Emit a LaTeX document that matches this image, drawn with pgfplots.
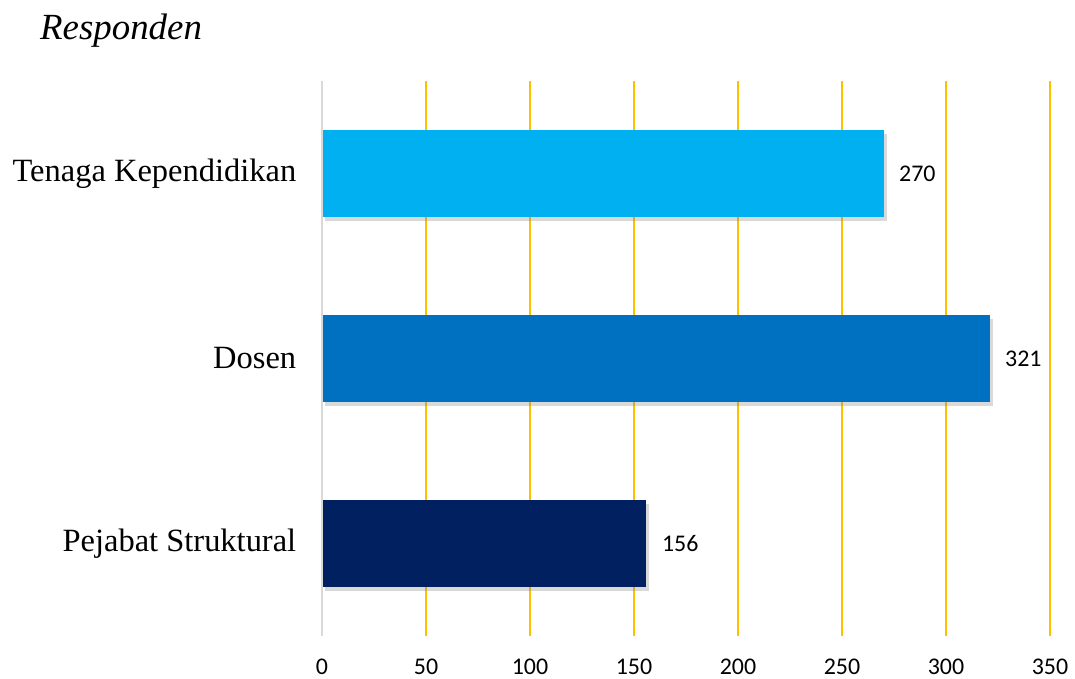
\documentclass[border=0pt]{standalone}
\usepackage{fontspec}
\setmainfont{Liberation Serif}
\newfontfamily\calibri{Carlito}
\usepackage{pgfplots}
\pgfplotsset{compat=1.18}
\usetikzlibrary{shadows}
\definecolor{tenaga}{HTML}{00B0F0}
\definecolor{dosen}{HTML}{0070C0}
\definecolor{pejabat}{HTML}{002060}
\definecolor{gold}{HTML}{FFC000}
\definecolor{zeroline}{HTML}{D9D9D9}
\begin{document}
\begin{tikzpicture}[x=1bp,y=1bp]
\path[use as bounding box] (0,0) rectangle (1075,679);
\node[anchor=base west,font=\itshape\fontsize{37}{42}\selectfont,inner sep=0pt] at (40,639) {Responden};
\begin{axis}[
  at={(322bp,43bp)}, anchor=south west,
  scale only axis, width=728bp, height=555bp,
  xmin=0, xmax=350, ymin=-0.5, ymax=2.5,
  xtick={0,50,...,350},
  ytick={0,1,2},
  yticklabels={Pejabat Struktural,Dosen,Tenaga Kependidikan},
  xmajorgrids, major grid style={draw=gold,line width=1.8bp},
  axis line style={draw=none},
  tick style={draw=none},
  /pgf/number format/assume math mode=true,
  xticklabel style={font=\calibri\fontsize{24}{24}\selectfont, yshift=-19bp},
  yticklabel style={font=\fontsize{32.6}{33}\selectfont, xshift=-18bp},
  xbar, bar width=87bp, bar shift=0pt,
  nodes near coords,
  every node near coord/.append style={font=\calibri\fontsize{24}{24}\selectfont, anchor=west, xshift=12bp, text=black},
  clip=false,
]
\addplot[draw=none, fill=pejabat, drop shadow={opacity=0.3,shadow xshift=3bp,shadow yshift=-4bp}] coordinates {(156,0)};
\addplot[draw=none, fill=dosen, drop shadow={opacity=0.3,shadow xshift=3bp,shadow yshift=-4bp}] coordinates {(321,1)};
\addplot[draw=none, fill=tenaga, drop shadow={opacity=0.3,shadow xshift=3bp,shadow yshift=-4bp}] coordinates {(270,2)};
\draw[zeroline, line width=2.5bp] (axis cs:0,-0.5) -- (axis cs:0,2.5);
\end{axis}
\end{tikzpicture}
\end{document}
